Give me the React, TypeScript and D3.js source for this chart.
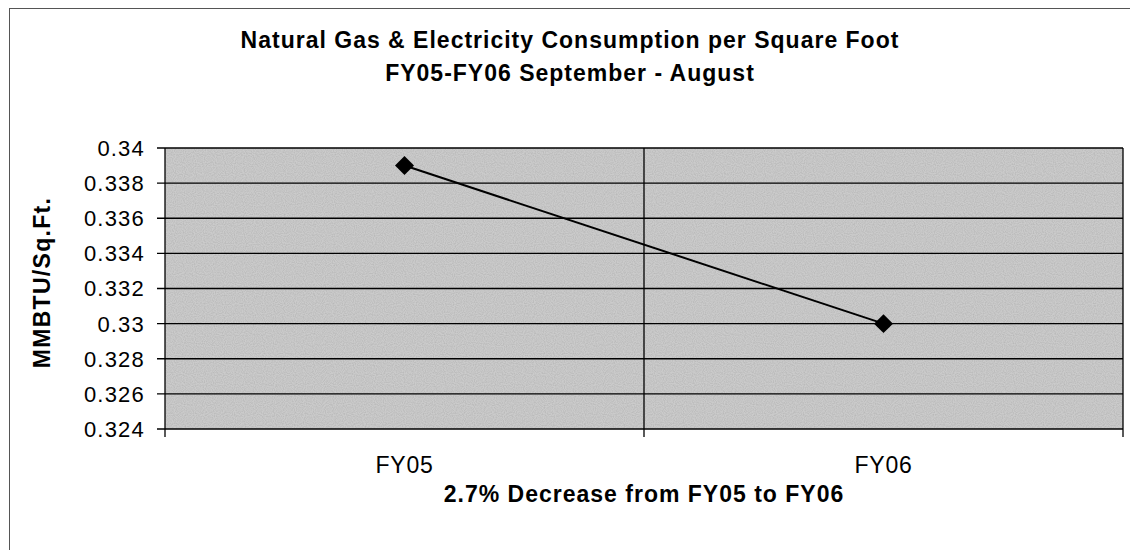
import React from "react";
import * as d3 from "d3";

const categories = ["FY05", "FY06"];
const values = [0.339, 0.33];
const yTicks = [0.324, 0.326, 0.328, 0.33, 0.332, 0.334, 0.336, 0.338, 0.34];
const titleLines = [
  "Natural Gas & Electricity Consumption per Square Foot",
  "FY05-FY06 September - August",
];
const yLabel = "MMBTU/Sq.Ft.";
const xLabel = "2.7% Decrease from FY05 to FY06";

const W = 1130;
const H = 550;
const plot = { left: 165, right: 1123, top: 148, bottom: 429 };
const font = "'Liberation Sans', Arial, Helvetica, sans-serif";

export default function App() {
  const x = d3.scaleBand<string>().domain(categories).range([plot.left, plot.right]);
  const y = d3.scaleLinear().domain([0.324, 0.34]).range([plot.bottom, plot.top]);
  const cx = (c: string) => (x(c) as number) + x.bandwidth() / 2;
  const line = d3
    .line<number>()
    .x((_, i) => cx(categories[i]))
    .y((d) => y(d));
  const symbol = d3.symbol().type(d3.symbolDiamond2).size(230)();
  const fmt = (v: number) => String(+v.toFixed(3));
  const boundaries = [plot.left, ...categories.map((c) => (x(c) as number) + x.bandwidth())];

  return (
    <svg
      width={W}
      height={H}
      style={{ position: "absolute", left: 0, top: 0, background: "#fff" }}
    >
      <defs>
        <filter id="noise" x="0" y="0" width="100%" height="100%">
          <feTurbulence type="fractalNoise" baseFrequency="0.9" numOctaves="1" seed="3" result="t" />
          <feColorMatrix type="matrix" values="0 0 0 0 0.45  0 0 0 0 0.45  0 0 0 0 0.45  0 0 0 1.6 -0.55" result="n" />
          <feComposite in="n" in2="SourceGraphic" operator="in" result="m" />
          <feMerge>
            <feMergeNode in="SourceGraphic" />
            <feMergeNode in="m" />
          </feMerge>
        </filter>
      </defs>
      {/* chart border */}
      <rect x={9.5} y={8.5} width={W} height={H} fill="none" stroke="#555" strokeWidth={1} />

      {/* titles */}
      {titleLines.map((t, i) => (
        <text
          key={t}
          x={570}
          y={48 + i * 33}
          textAnchor="middle"
          fontFamily={font}
          fontWeight="bold"
          fontSize={23}
          letterSpacing={1}
          fill="#000"
        >
          {t}
        </text>
      ))}

      {/* plot area */}
      <rect
        x={plot.left}
        y={plot.top}
        width={plot.right - plot.left}
        height={plot.bottom - plot.top}
        fill="#cbcbcb"
        filter="url(#noise)"
      />

      {/* horizontal gridlines + ticks */}
      {yTicks.map((t) => (
        <g key={t}>
          <line
            x1={plot.left - 8}
            x2={plot.right}
            y1={y(t)}
            y2={y(t)}
            stroke="#000"
            strokeWidth={1.3}
          />
          <text
            x={145}
            y={y(t)}
            dy="0.36em"
            textAnchor="end"
            fontFamily={font}
            fontSize={22}
            letterSpacing={1.2}
            fill="#000"
          >
            {fmt(t)}
          </text>
        </g>
      ))}

      {/* vertical lines at category boundaries */}
      {boundaries.map((b, i) => (
        <line
          key={i}
          x1={b}
          x2={b}
          y1={plot.top}
          y2={plot.bottom + 8}
          stroke="#000"
          strokeWidth={1.3}
        />
      ))}

      {/* category labels */}
      {categories.map((c) => (
        <text
          key={c}
          x={cx(c)}
          y={473}
          textAnchor="middle"
          fontFamily={font}
          fontSize={23}
          letterSpacing={0.8}
          fill="#000"
        >
          {c}
        </text>
      ))}

      {/* axis titles */}
      <text
        transform={`translate(50,${(plot.top + plot.bottom) / 2 - 6}) rotate(-90)`}
        textAnchor="middle"
        fontFamily={font}
        fontWeight="bold"
        fontSize={23}
        letterSpacing={1.3}
        fill="#000"
      >
        {yLabel}
      </text>
      <text
        x={(plot.left + plot.right) / 2}
        y={502}
        textAnchor="middle"
        fontFamily={font}
        fontWeight="bold"
        fontSize={23}
        letterSpacing={1}
        fill="#000"
      >
        {xLabel}
      </text>

      {/* series */}
      <path d={line(values) || ""} fill="none" stroke="#000" strokeWidth={2} />
      {values.map((v, i) => (
        <path
          key={i}
          d={symbol || ""}
          transform={`translate(${cx(categories[i])},${y(v)})`}
          fill="#000"
        />
      ))}
    </svg>
  );
}
